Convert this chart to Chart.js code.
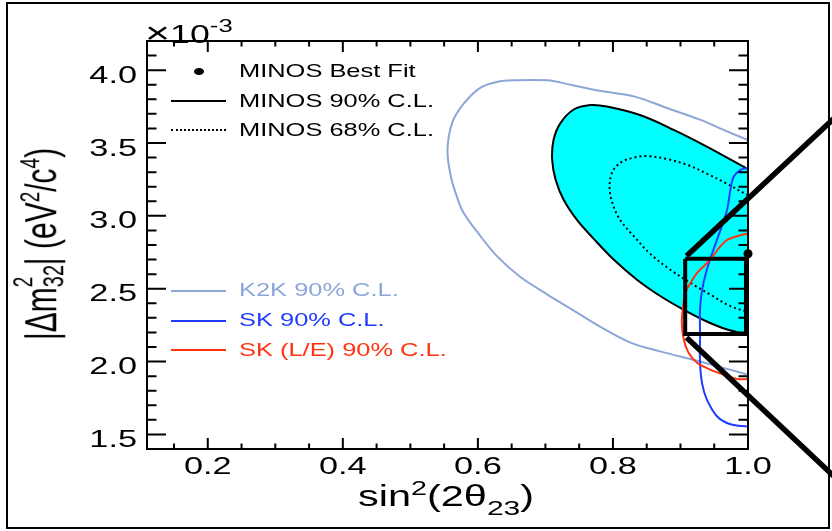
<!DOCTYPE html>
<html><head><meta charset="utf-8">
<script src="https://cdn.jsdelivr.net/npm/chart.js@4.4.1/dist/chart.umd.min.js"></script>
<style>
html,body{margin:0;padding:0;background:#fff;width:832px;height:531px;overflow:hidden;font-family:"Liberation Sans",Arial,sans-serif;}
#frame{position:absolute;left:6px;top:2px;width:820px;height:523px;border:2px solid #000;}
#c{position:absolute;left:0;top:0;}
.t{position:absolute;white-space:nowrap;transform-origin:0 50%;}
.sym{position:absolute;}
</style></head><body>
<div id="frame"></div>
<canvas id="c" width="832" height="531"></canvas>
<script>
// ---- tick values and labels ----
const xMajorTicks = [0.2, 0.4, 0.6, 0.8, 1.0];
const xTickLabels = ['0.2', '0.4', '0.6', '0.8', '1.0'];
const xMinorTicks = [0.15, 0.25, 0.3, 0.35, 0.45, 0.5, 0.55, 0.65, 0.7, 0.75, 0.85, 0.9, 0.95];
const yMajorTicks = [1.5, 2.0, 2.5, 3.0, 3.5, 4.0];
const yTickLabels = ['1.5', '2.0', '2.5', '3.0', '3.5', '4.0'];
const yMinorTicks = [1.6,1.7,1.8,1.9,2.1,2.2,2.3,2.4,2.6,2.7,2.8,2.9,3.1,3.2,3.3,3.4,3.6,3.7,3.8,3.9,4.1];

// ---- series (sin^2(2theta), dm^2 x 1e-3) ----
const k2kX = [1.0, 0.969, 0.929, 0.880, 0.831, 0.778, 0.737, 0.703, 0.653, 0.629, 0.604, 0.579, 0.562, 0.555, 0.560, 0.569, 0.579, 0.604, 0.629, 0.663, 0.703, 0.742, 0.777, 0.826, 0.870, 0.929, 0.969, 1.0];
const k2kY = [3.52, 3.58, 3.66, 3.74, 3.82, 3.86, 3.90, 3.93, 3.93, 3.92, 3.88, 3.77, 3.64, 3.45, 3.27, 3.13, 3.02, 2.86, 2.72, 2.58, 2.46, 2.35, 2.25, 2.13, 2.07, 2.00, 1.95, 1.91];

const minos90X = [1.0, 0.939, 0.890, 0.841, 0.791, 0.767, 0.742, 0.722, 0.712, 0.710, 0.715, 0.727, 0.747, 0.772, 0.801, 0.836, 0.870, 0.905, 0.939, 0.969, 1.0];
const minos90Y = [3.32, 3.475, 3.59, 3.69, 3.75, 3.76, 3.73, 3.635, 3.52, 3.385, 3.25, 3.11, 2.97, 2.84, 2.70, 2.56, 2.45, 2.355, 2.275, 2.22, 2.185];

const minos68X = [1.0, 0.969, 0.939, 0.910, 0.880, 0.851, 0.831, 0.811, 0.799, 0.795, 0.799, 0.811, 0.831, 0.855, 0.885, 0.915, 0.944, 0.974, 1.0];
const minos68Y = [3.14, 3.22, 3.29, 3.35, 3.39, 3.41, 3.40, 3.365, 3.30, 3.20, 3.09, 2.97, 2.86, 2.74, 2.63, 2.54, 2.46, 2.38, 2.34];

const skX = [1.0, 0.989, 0.979, 0.974, 0.969, 0.959, 0.949, 0.939, 0.932, 0.929, 0.929, 0.929, 0.932, 0.939, 0.954, 0.974, 1.0];
const skY = [3.33, 3.315, 3.27, 3.18, 3.04, 2.90, 2.77, 2.63, 2.49, 2.36, 2.17, 1.99, 1.85, 1.74, 1.625, 1.57, 1.555];

const skleX = [1.0, 0.984, 0.969, 0.959, 0.949, 0.939, 0.925, 0.915, 0.907, 0.904, 0.902, 0.905, 0.912, 0.925, 0.944, 0.964, 0.984, 1.0];
const skleY = [2.88, 2.86, 2.835, 2.79, 2.73, 2.675, 2.61, 2.54, 2.47, 2.38, 2.265, 2.15, 2.06, 1.99, 1.945, 1.91, 1.88, 1.88];

const bestX = [1.0];
const bestY = [2.74];

const boxX = [0.907, 0.997, 0.997, 0.907, 0.907];
const boxY = [2.705, 2.705, 2.19, 2.19, 2.705];

const zoomUpX = [0.909, 1.13];
const zoomUpY = [2.725, 3.68];
const zoomLoX = [0.909, 1.13];
const zoomLoY = [2.165, 1.20];

const legendLabels = ['MINOS Best Fit', 'MINOS 90% C.L.', 'MINOS 68% C.L.', 'K2K 90% C.L.', 'SK 90% C.L.', 'SK (L/E) 90% C.L.'];

// ---- colours ----
const K2K_C = '#8da6d8', SK_C = '#1f3cff', SKLE_C = '#ff3311', CYAN = '#00ffff';

const pts = (xs, ys) => xs.map((x, i) => ({x: x, y: ys[i]}));
const S = 1.43; // horizontal text stretch

const axesPlugin = {
  id: 'rootAxes',
  afterDatasetsDraw(chart) {
    const {ctx, chartArea: a, scales: {x, y}} = chart;
    ctx.save();
    ctx.strokeStyle = '#000';
    ctx.lineWidth = 2;
    ctx.strokeRect(a.left, a.top, a.right - a.left, a.bottom - a.top);
    ctx.beginPath();
    const xt = (v, L) => { const p = x.getPixelForValue(v); ctx.moveTo(p, a.bottom); ctx.lineTo(p, a.bottom - L); ctx.moveTo(p, a.top); ctx.lineTo(p, a.top + L); };
    const yt = (v, L) => { const p = y.getPixelForValue(v); ctx.moveTo(a.left, p); ctx.lineTo(a.left + L, p); ctx.moveTo(a.right, p); ctx.lineTo(a.right - L, p); };
    xMajorTicks.forEach(v => xt(v, 11));
    xMinorTicks.forEach(v => xt(v, 5.5));
    yMajorTicks.forEach(v => yt(v, 19));
    yMinorTicks.forEach(v => yt(v, 9.5));
    ctx.stroke();
    ctx.fillStyle = '#000';
    ctx.font = '24px "Liberation Sans", Arial, sans-serif';
    ctx.textBaseline = 'alphabetic';
    ctx.textAlign = 'right';
    yMajorTicks.forEach((v, i) => {
      ctx.save(); ctx.translate(137, y.getPixelForValue(v) + 12.5); ctx.scale(S, 1);
      ctx.fillText(yTickLabels[i], 0, 0); ctx.restore();
    });
    ctx.textAlign = 'center';
    xMajorTicks.forEach((v, i) => {
      ctx.save(); ctx.translate(x.getPixelForValue(v), a.bottom + 25); ctx.scale(S, 1);
      ctx.fillText(xTickLabels[i], 0, 0); ctx.restore();
    });
    ctx.restore();
  }
};

const lineDs = (xs, ys, color, extra) => Object.assign({
  data: pts(xs, ys), showLine: true, borderColor: color, borderWidth: 2,
  pointRadius: 0, tension: 0.35, fill: false
}, extra || {});

new Chart(document.getElementById('c'), {
  type: 'scatter',
  data: {datasets: [
    lineDs(minos90X, minos90Y, '#000', {fill: 'shape', backgroundColor: CYAN, order: 10}),
    lineDs(k2kX, k2kY, K2K_C, {order: 9}),
    lineDs(minos68X, minos68Y, '#000', {borderDash: [2, 3], order: 8}),
    lineDs(skX, skY, SK_C, {order: 7}),
    lineDs(skleX, skleY, SKLE_C, {order: 6}),
    lineDs(boxX, boxY, '#000', {borderWidth: 4, tension: 0, borderJoinStyle: 'miter', clip: false, order: 5}),
    lineDs(zoomUpX, zoomUpY, '#000', {borderWidth: 5.5, tension: 0, clip: false, order: 4}),
    lineDs(zoomLoX, zoomLoY, '#000', {borderWidth: 5.5, tension: 0, clip: false, order: 3}),
    {data: pts(bestX, bestY), showLine: false, pointRadius: 4.5, pointBackgroundColor: '#000', pointBorderColor: '#000', pointBorderWidth: 0, clip: false, order: 1}
  ]},
  options: {
    responsive: false, animation: false, events: [],
    layout: {padding: {left: 147, right: 84, top: 41, bottom: 82}},
    plugins: {legend: {display: false}, tooltip: {enabled: false}},
    scales: {
      x: {type: 'linear', min: 0.11, max: 1.0, display: false},
      y: {type: 'linear', min: 1.4, max: 4.2, display: false}
    }
  },
  plugins: [axesPlugin]
});

// ---- text overlays ----
function addText(html, x, base, fs, color) {
  const d = document.createElement('div');
  d.className = 't';
  d.style.left = x + 'px';
  d.style.top = (base - 0.8465 * fs) + 'px';
  d.style.fontSize = fs + 'px';
  d.style.lineHeight = fs + 'px';
  d.style.color = color || '#000';
  d.style.transform = 'scaleX(' + S + ')';
  d.innerHTML = html;
  document.body.appendChild(d);
  return d;
}
function addSym(css) {
  const d = document.createElement('div');
  d.className = 'sym';
  Object.assign(d.style, css);
  document.body.appendChild(d);
}

addText('<span style="font-size:30px">×</span>10<span style="position:relative;top:-11px;font-size:18px">-3</span>', 145, 41, 25);
addText('sin<span style="position:relative;top:-11px;font-size:20px">2</span>(2θ<span style="position:relative;top:9px;font-size:21px">23</span>)', 358, 507, 29);

// y title
const yt = document.createElement('div');
yt.style.cssText = 'position:absolute;left:40px;top:244px;font-size:30px;line-height:30px;white-space:nowrap;transform:translate(-50%,-50%) rotate(-90deg) scaleY(1.5);';
yt.innerHTML = '|Δm<span style="display:inline-block;position:relative;width:22px;height:30px;vertical-align:baseline;">' +
  '<span style="position:absolute;left:0;top:-2px;font-size:19px;line-height:19px">2</span>' +
  '<span style="position:absolute;left:0;top:18px;font-size:20px;line-height:20px">32</span></span>' +
  '| (eV<span style="position:relative;top:-11px;font-size:19px">2</span>/c<span style="position:relative;top:-11px;font-size:19px">4</span>)';
document.body.appendChild(yt);

// legend
const legBase = [77.7, 108.3, 137.3, 297.3, 327.3, 357.3];
const legCol = ['#000', '#000', '#000', K2K_C, SK_C, SKLE_C];
legendLabels.forEach((t, i) => addText(t, 239, legBase[i], 17.8, legCol[i]));
addSym({left: '194px', top: '67.5px', width: '10px', height: '7px', borderRadius: '50%', background: '#000'});
addSym({left: '171px', top: '100px', width: '55px', height: '2px', background: '#000'});
addSym({left: '171px', top: '128.5px', width: '55px', height: '0', borderTop: '2px dotted #000'});
addSym({left: '171px', top: '290px', width: '55px', height: '2px', background: K2K_C});
addSym({left: '171px', top: '320px', width: '55px', height: '2px', background: SK_C});
addSym({left: '171px', top: '349px', width: '55px', height: '2px', background: SKLE_C});
</script>
</body></html>
